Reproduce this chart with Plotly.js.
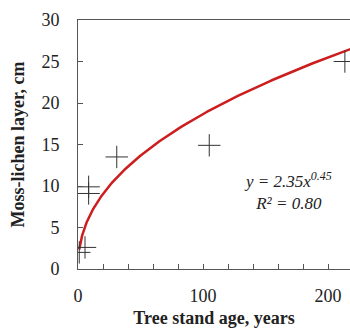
<!DOCTYPE html>
<html><head><meta charset="utf-8">
<script src="https://cdn.plot.ly/plotly-3.0.1.min.js"></script>
<style>html,body{margin:0;padding:0;background:#fff;}#chart{width:350px;height:328px;}</style>
</head><body><div id="chart"></div>
<script>
// Observed data
const standAge = [1, 5.6, 8.5, 8.5, 31, 105, 213.5];
const mossLayer = [2.0, 2.6, 9.9, 9.1, 13.5, 14.9, 25.0];
// Power trendline shown on chart: y = a * x^b
const fitA = 2.35, fitB = 0.45;
const fitXStart = 1, fitXEnd = 220;

const fitX = [], fitY = [];
for (let i = 0; i <= 200; i++) {
  const x = fitXStart + (fitXEnd - fitXStart) * Math.pow(i / 200, 2);
  fitX.push(x); fitY.push(fitA * Math.pow(x, fitB));
}

const serif = '"Liberation Serif", "DejaVu Serif", serif';
const data = [
  {x: fitX, y: fitY, mode: 'lines', line: {color: '#cc1e1e', width: 2.5}, hoverinfo: 'skip'},
  {x: standAge, y: mossLayer, mode: 'markers',
   marker: {symbol: 'cross-thin-open', size: 16, color: '#333333', line: {color: '#333333', width: 1}}}
];
const layout = {
  width: 350, height: 328,
  margin: {l: 78, r: 0, t: 20, b: 59},
  showlegend: false,
  paper_bgcolor: '#fff', plot_bgcolor: '#fff',
  font: {family: serif, size: 14, color: '#222'},
  xaxis: {
    range: [0, 217.6], dtick: 100, tick0: 0,
    showgrid: false, zeroline: false,
    showline: true, linecolor: '#555', linewidth: 1, mirror: true,
    ticks: 'inside', ticklen: 5, tickcolor: '#555',
    minor: {dtick: 20, ticks: 'inside', ticklen: 5, tickcolor: '#555'},
    tickfont: {family: serif, size: 18, color: '#222'},
    ticklabelstandoff: 10,
    title: {text: '<b>Tree stand age, years</b>', font: {family: serif, size: 18, color: '#222'}, standoff: 7}
  },
  yaxis: {
    range: [0, 30], dtick: 5,
    showgrid: false, zeroline: false,
    showline: true, linecolor: '#555', linewidth: 1,
    ticks: 'inside', ticklen: 5, tickcolor: '#555',
    tickfont: {family: serif, size: 18, color: '#222'},
    ticklabelstandoff: 14,
    title: {text: '<b>Moss-lichen layer, cm</b>', font: {family: serif, size: 18, color: '#222'}, standoff: 12}
  },
  annotations: [{
    xref: 'paper', yref: 'paper', x: (288 - 78) / 272, y: (269 - 191) / 249,
    xanchor: 'center', yanchor: 'middle',
    text: '<i>y = 2.35x<sup>0.45</sup></i><br><i>R² = 0.80</i>',
    showarrow: false, align: 'center',
    font: {family: serif, size: 17, color: '#222'}
  }]
};
Plotly.newPlot('chart', data, layout, {displayModeBar: false, staticPlot: true});
</script></body></html>
